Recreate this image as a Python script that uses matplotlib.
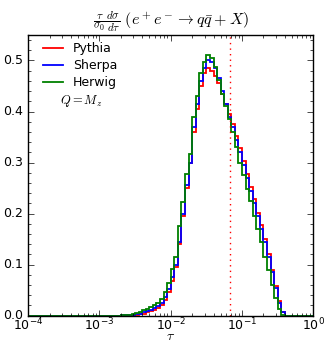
import numpy as np
import matplotlib
matplotlib.use("Agg")
import matplotlib.pyplot as plt
from matplotlib.ticker import AutoMinorLocator

# log bins, 20 per decade from 1e-4 to 1
bin_edges = 10 ** np.linspace(-4, 0, 81)
first_bin = 26  # index of the first bin listed below

pythia = [0.0003, 0.0006, 0.001, 0.0015, 0.002,
          0.003, 0.004, 0.006, 0.008, 0.011, 0.015, 0.021, 0.031, 0.046, 0.068,
          0.095, 0.14, 0.195, 0.25, 0.30, 0.36, 0.405, 0.45, 0.475, 0.485,
          0.48, 0.47, 0.455, 0.435, 0.415, 0.395, 0.375, 0.352, 0.328, 0.302,
          0.277, 0.252, 0.228, 0.202, 0.177, 0.15, 0.12, 0.09, 0.058, 0.028,
          0.007, 0.0]
sherpa = [0.0004, 0.0008, 0.0013, 0.002, 0.003,
          0.004, 0.006, 0.008, 0.011, 0.015, 0.019, 0.025, 0.037, 0.052, 0.075,
          0.10, 0.145, 0.20, 0.255, 0.30, 0.37, 0.415, 0.46, 0.485, 0.500,
          0.497, 0.485, 0.465, 0.44, 0.415, 0.39, 0.37, 0.345, 0.32, 0.295,
          0.27, 0.245, 0.22, 0.195, 0.17, 0.145, 0.115, 0.085, 0.055, 0.025,
          0.006, 0.0]
herwig = [0.0006, 0.0012, 0.002, 0.003, 0.005,
          0.007, 0.010, 0.012, 0.016, 0.021, 0.025, 0.032, 0.047, 0.063, 0.092,
          0.114, 0.175, 0.222, 0.277, 0.316, 0.39, 0.43, 0.475, 0.497, 0.510,
          0.505, 0.487, 0.462, 0.435, 0.41, 0.385, 0.36, 0.33, 0.30, 0.275,
          0.248, 0.225, 0.195, 0.17, 0.145, 0.115, 0.09, 0.06, 0.035, 0.012,
          0.002, 0.0]

labels = ["Pythia", "Sherpa", "Herwig"]
colors = ["r", "b", "g"]
tau_cut = 0.067


def full_hist(vals):
    h = np.zeros(len(bin_edges) - 1)
    h[first_bin:first_bin + len(vals)] = vals
    return h


plt.style.use("classic")
plt.rcParams["figure.facecolor"] = "white"
plt.rcParams["savefig.facecolor"] = "white"

fig = plt.figure(figsize=(3.24, 3.43), dpi=100)
ax = fig.add_axes([0.087, 0.08, 0.880, 0.818])

for vals, lab, col in zip([pythia, sherpa, herwig], labels, colors):
    ax.stairs(full_hist(vals), bin_edges, color=col, lw=1.3, label=lab)

ax.axvline(tau_cut, color="r", ls=":", lw=1)

ax.set_xscale("log")
ax.set_xlim(1e-4, 1)
ax.set_ylim(0, 0.55)
ax.set_yticks([0.0, 0.1, 0.2, 0.3, 0.4, 0.5])
ax.yaxis.set_minor_locator(AutoMinorLocator(5))
ax.tick_params(labelsize=9)
ax.tick_params(axis="x", pad=1)

ax.set_xlabel(r"$\tau$", fontsize=10, labelpad=-3)
ax.set_title(r"$\frac{\tau}{\sigma_0}\frac{d\sigma}{d\tau}\ (e^+e^-\to q\bar{q}+X)$",
             fontsize=11.5, y=1.01)

leg = ax.legend(loc="upper left", bbox_to_anchor=(0.025, 1.0), frameon=False,
                fontsize=9, handlelength=1.6, numpoints=1, borderaxespad=0.2,
                labelspacing=0.3)
ax.text(0.11, 0.766, r"$Q=M_z$", transform=ax.transAxes, fontsize=9,
        va="center")

fig.savefig("out.png", dpi=100)
